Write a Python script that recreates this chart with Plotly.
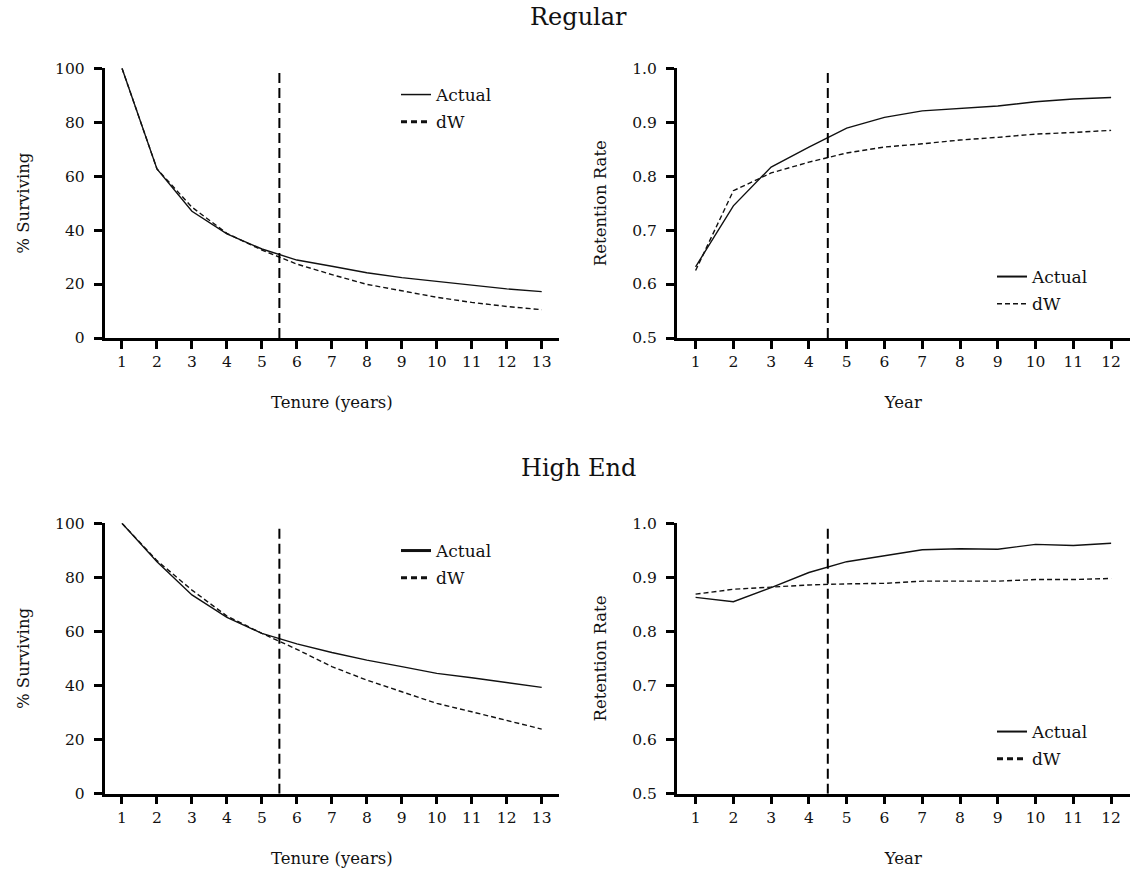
import plotly.graph_objects as go

# the page is 1136x874; the body margin is removed so figure pixels == page pixels
OFF = 0
W, H = 1136 - OFF, 874 - OFF

# ---------------- data ----------------
tenure = [1, 2, 3, 4, 5, 6, 7, 8, 9, 10, 11, 12, 13]
years = [1, 2, 3, 4, 5, 6, 7, 8, 9, 10, 11, 12]

reg_surv_actual = [100, 62.7, 47.0, 38.6, 33.0, 28.9, 26.6, 24.2, 22.4, 21.0, 19.4, 18.2, 17.2]
reg_surv_dw = [100, 62.7, 48.5, 38.8, 32.6, 27.4, 23.5, 19.9, 17.5, 15.1, 13.2, 11.7, 10.5]

reg_ret_actual = [0.632, 0.745, 0.817, 0.854, 0.889, 0.909, 0.921, 0.926, 0.930, 0.938, 0.943, 0.946]
reg_ret_dw = [0.625, 0.773, 0.806, 0.826, 0.843, 0.854, 0.860, 0.867, 0.872, 0.878, 0.881, 0.885]

hi_surv_actual = [100, 85.8, 73.5, 65.2, 59.3, 55.4, 52.2, 49.4, 47.0, 44.5, 42.9, 41.1, 39.3]
hi_surv_dw = [100, 86.2, 75.3, 65.7, 59.3, 53.4, 47.0, 42.0, 37.7, 33.4, 30.3, 27.2, 23.9]

hi_ret_actual = [0.863, 0.855, 0.881, 0.909, 0.929, 0.940, 0.951, 0.953, 0.952, 0.961, 0.959, 0.963]
hi_ret_dw = [0.869, 0.878, 0.882, 0.886, 0.888, 0.889, 0.893, 0.893, 0.893, 0.896, 0.896, 0.898]

cutoff_tenure = 5.5
cutoff_year = 4.5

series_names = ["Actual", "dW"]
panel_titles = ["Regular", "High End"]
tenure_ticks = [str(t) for t in tenure]
year_ticks = [str(y) for y in years]
surv_ticks = [0, 20, 40, 60, 80, 100]
ret_ticks = [0.5, 0.6, 0.7, 0.8, 0.9, 1.0]

# ---------------- figure ----------------
FONT = "DejaVu Serif"
INK = "#111111"
fig = go.Figure()


def px_x(a, b):
    return [(a - OFF) / W, (b - OFF) / W]


def px_y(top, bottom):
    return [1 - (bottom - OFF) / H, 1 - (top - OFF) / H]


def pxx(a):
    return (a - OFF) / W


def pxy(a):
    return 1 - (a - OFF) / H


xL = px_x(104.5, 559.2)
xR = px_x(676.7, 1130.0)
yT = px_y(68.3, 338.0)
yB = px_y(523.3, 793.7)

panels = [
    ("x", "y", xL, yT, tenure, reg_surv_actual, reg_surv_dw, "legend", cutoff_tenure,
     "Tenure (years)", "% Surviving", [0, 100], surv_ticks, tenure_ticks),
    ("x2", "y2", xR, yT, years, reg_ret_actual, reg_ret_dw, "legend2", cutoff_year,
     "Year", "Retention Rate", [0.5, 1.0], ret_ticks, year_ticks),
    ("x3", "y3", xL, yB, tenure, hi_surv_actual, hi_surv_dw, "legend3", cutoff_tenure,
     "Tenure (years)", "% Surviving", [0, 100], surv_ticks, tenure_ticks),
    ("x4", "y4", xR, yB, years, hi_ret_actual, hi_ret_dw, "legend4", cutoff_year,
     "Year", "Retention Rate", [0.5, 1.0], ret_ticks, year_ticks),
]

# legend sample line styles (the key samples differ in weight between panels)
legend_sample = {
    "legend": ((1.5, "solid"), (3.0, "6px,4px")),
    "legend2": ((2.0, "solid"), (1.5, "5px,3px")),
    "legend3": ((3.0, "solid"), (3.0, "6px,4px")),
    "legend4": ((2.0, "solid"), (3.0, "6px,4px")),
}

legend_pos = {
    "legend": (396, 77),
    "legend2": (992, 259),
    "legend3": (396, 533),
    "legend4": (992, 714),
}

layout = dict(
    width=W, height=H,
    margin=dict(l=0, r=0, t=0, b=0),
    paper_bgcolor="white", plot_bgcolor="white",
    font=dict(family=FONT, size=15, color=INK),
    showlegend=True,
    shapes=[], annotations=[],
)

for i, (xa, ya, xd, yd, xs, act, dw, lg, cut, xt, yt, yr, ytk, xtk) in enumerate(panels):
    gid = str(i)
    fig.add_trace(go.Scatter(
        x=xs, y=act, mode="lines", name=series_names[0], showlegend=False,
        line=dict(color=INK, width=1.4), xaxis=xa, yaxis=ya,
    ))
    fig.add_trace(go.Scatter(
        x=xs, y=dw, mode="lines", name=series_names[1], showlegend=False,
        line=dict(color=INK, width=1.4, dash="5px,3px"), xaxis=xa, yaxis=ya,
    ))
    # legend keys
    (wa, da), (wd, dd) = legend_sample[lg]
    fig.add_trace(go.Scatter(
        x=[None], y=[None], mode="lines", name=series_names[0],
        line=dict(color=INK, width=wa, dash=da), xaxis=xa, yaxis=ya,
        legend=lg, legendgroup=gid + "a",
    ))
    fig.add_trace(go.Scatter(
        x=[None], y=[None], mode="lines", name=series_names[1],
        line=dict(color=INK, width=wd, dash=dd), xaxis=xa, yaxis=ya,
        legend=lg, legendgroup=gid + "b",
    ))
    xkey = "xaxis" if xa == "x" else "xaxis" + xa[1:]
    ykey = "yaxis" if ya == "y" else "yaxis" + ya[1:]
    layout[xkey] = dict(
        domain=xd, anchor=ya, range=[0.5, len(xs) + 0.5],
        tickmode="array", tickvals=xs, ticktext=xtk,
        showline=True, linecolor="black", linewidth=2.5,
        ticks="outside", ticklen=8, tickwidth=2.5, tickcolor="black",
        showgrid=False, zeroline=False,
        tickfont=dict(family=FONT, size=15.5, color=INK),
        title=dict(text=xt, standoff=27, font=dict(family=FONT, size=16.5, color=INK)),
        automargin=False,
    )
    layout[ykey] = dict(
        domain=yd, anchor=xa, range=yr,
        tickmode="array", tickvals=ytk,
        ticktext=[("%g" % v) if yr[1] > 1 else ("%.1f" % v) for v in ytk],
        showline=True, linecolor="black", linewidth=2.5,
        ticks="outside", ticklen=8, tickwidth=2.5, tickcolor="black",
        ticklabelstandoff=6,
        showgrid=False, zeroline=False,
        tickfont=dict(family=FONT, size=15.5, color=INK),
        title=dict(text=yt, standoff=22, font=dict(family=FONT, size=16.5, color=INK)),
        automargin=False,
    )
    top = yr[0] + 0.988 * (yr[1] - yr[0])
    layout["shapes"].append(dict(
        type="line", xref=xa, yref=ya, x0=cut, x1=cut, y0=yr[0], y1=top,
        line=dict(color="black", width=2, dash="10px,5px"),
    ))
    lx, ly = legend_pos[lg]
    layout[lg] = dict(
        x=pxx(lx), y=pxy(ly), xanchor="left", yanchor="top",
        bgcolor="rgba(0,0,0,0)", borderwidth=0,
        font=dict(family=FONT, size=17, color=INK),
        tracegroupgap=2, traceorder="grouped",
    )

layout["annotations"] += [
    dict(text=panel_titles[0], x=pxx(578), y=pxy(17), xref="paper", yref="paper",
         showarrow=False, xanchor="center", yanchor="middle",
         font=dict(family=FONT, size=24, color=INK)),
    dict(text=panel_titles[1], x=pxx(578), y=pxy(468), xref="paper", yref="paper",
         showarrow=False, xanchor="center", yanchor="middle",
         font=dict(family=FONT, size=24, color=INK)),
]

fig.update_layout(**layout)
fig.write_html(
    "out.html",
    config={"displayModeBar": False},
    post_script="document.body.style.margin='0';document.body.style.overflow='hidden';",
)
